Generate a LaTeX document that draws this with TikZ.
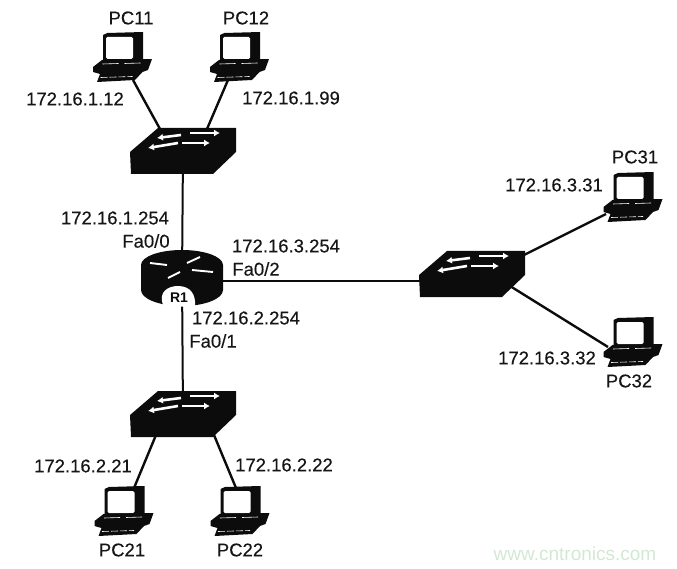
\documentclass[tikz,border=0pt]{standalone}
\usepackage{fontspec}
\setmainfont{Liberation Sans}
\usetikzlibrary{calc,arrows.meta}
\definecolor{ink}{HTML}{0C0C0C}
\definecolor{labelink}{HTML}{161616}
\definecolor{mark}{HTML}{D2E8D2}
\tikzset{
  x=1pt,y=-1pt,
  lbl/.style={inner sep=0pt,text=labelink,font=\fontsize{18.5}{20}\selectfont\addfontfeature{FakeBold=0.25}},
  link/.style={draw=ink,line width=2.4pt},
  device/.style={inner sep=0pt,minimum width=106pt,minimum height=46pt,draw=none},
  pcdev/.style={inner sep=0pt,minimum width=50pt,minimum height=50pt,draw=none},
  rtdev/.style={inner sep=0pt,minimum width=82pt,minimum height=57pt,draw=none},
  flow/.style={draw=white,line width=2.6pt,-{Latex[length=6pt,width=7pt]}},
  hair/.style={draw=white,line width=.6pt},
  pc/.pic={
    \fill[ink] (-19.5,-22) -- (-15,-24) -- (20.5,-25) -- (20.5,3) -- (-19.5,4) -- cycle;
    \fill[white,rounded corners=1.5pt] (-16.5,-20) rectangle (10.5,2);
    \fill[ink] (-29.5,10) -- (-20.5,3) -- (29.5,2) -- (25.5,13) -- (20,15) -- (12.5,23)
      -- (-25.5,25) -- (-22.5,17) -- (-29.5,15) -- cycle;
    \draw[hair] (-20,7) -- (-4,6.5) (2,6.5) -- (18,6);
    \draw[hair,dash pattern=on 7pt off 2pt] (-22,20.5) -- (10,19.5);
  },
  switchicon/.pic={
    \fill[ink] (-53,1) -- (-25,-23) -- (53,-23) -- (53,1) -- (30,23) -- (-52,23) -- cycle;
    \draw[flow] (-2,-16) -- (-26,-13);
    \draw[flow] (7,-18) -- (37,-18);
    \draw[flow] (-5,-8) -- (-35,-3);
    \draw[flow] (-1,-8) -- (27,-8);
  },
  routericon/.pic={
    \fill[ink] (-41,-13) arc[start angle=180,end angle=360,x radius=41,y radius=15]
       -- (41,12) arc[start angle=0,end angle=180,x radius=41,y radius=16] -- cycle;
    \fill[white] (-19,27) .. controls (-24,14) and (-14,8) .. (-4,8)
       .. controls (8,8) and (14,16) .. (13,28) .. controls (4,29) and (-10,29) .. (-19,27) -- cycle;
    \draw[draw=white,line width=1.9pt] (-32,-15) -- (-15,-13) (5,-15) -- (18,-21)
       (-14,0) -- (-2,-6) (10,-8) -- (31,-6);
    \node[inner sep=0pt,text=ink,font=\fontsize{14}{14}\selectfont\bfseries] at (-3,19.5) {R1};
  }
}
\begin{document}
\begin{tikzpicture}
\useasboundingbox (0,0) rectangle (677,569);
% device anchors
\node[pcdev] (pc11) at (122.5,57) {};
\node[pcdev] (pc12) at (239.5,57) {};
\node[pcdev] (pc21) at (124,511) {};
\node[pcdev] (pc22) at (240,511) {};
\node[pcdev] (pc31) at (633,197) {};
\node[pcdev] (pc32) at (633,342) {};
\node[device] (sw1) at (183,151) {};
\node[device] (sw2) at (183,414) {};
\node[device] (sw3) at (472,274) {};
\node[rtdev] (r1) at (182,278) {};
% ports
\coordinate (a11) at (133,80);
\coordinate (s11) at (160,129);
\coordinate (a12) at (228,80);
\coordinate (s12) at (207,129);
\coordinate (a21) at (134,488);
\coordinate (s21) at (156,435);
\coordinate (a22) at (236,488);
\coordinate (s22) at (214,435);
\coordinate (a31) at (606,214);
\coordinate (s31) at (524,255);
\coordinate (a32) at (608,347);
\coordinate (s32) at (510,286);
\coordinate (r3) at (215,281);
\coordinate (s3w) at (425,281);
% links
\draw[link] (a11) -- (s11);
\draw[link] (a12) -- (s12);
\draw[link] (a21) -- (s21);
\draw[link] (a22) -- (s22);
\draw[link] (a31) -- (s31);
\draw[link] (a32) -- (s32);
\draw[link,line width=2pt] (sw1.center) -- (r1.center);
\draw[link,line width=2pt] (r1.center) -- (sw2.center);
\draw[link,line width=2pt] (r3) -- (s3w);
% icons
\foreach \n in {pc11,pc12,pc21,pc22,pc31,pc32} \pic at (\n) {pc};
\foreach \n in {sw1,sw2,sw3} \pic at (\n) {switchicon};
\pic at (r1) {routericon};
% labels
\node[lbl] at (131,18) {PC11};
\node[lbl] at (246,18) {PC12};
\node[lbl] at (635,157) {PC31};
\node[lbl] at (629,381) {PC32};
\node[lbl] at (122,550) {PC21};
\node[lbl] at (240,550) {PC22};
\node[lbl] at (75,99) {172.16.1.12};
\node[lbl] at (291,98) {172.16.1.99};
\node[lbl] at (115,218) {172.16.1.254};
\node[lbl] at (146,241) {Fa0/0};
\node[lbl] at (286,246) {172.16.3.254};
\node[lbl] at (256,269) {Fa0/2};
\node[lbl] at (246,318) {172.16.2.254};
\node[lbl] at (213,341) {Fa0/1};
\node[lbl] at (554,185) {172.16.3.31};
\node[lbl] at (547,358) {172.16.3.32};
\node[lbl] at (83,466) {172.16.2.21};
\node[lbl] at (284,465) {172.16.2.22};
\node[inner sep=0pt,text=mark,font=\fontsize{19}{20}\selectfont] at (575,554) {www.cntronics.com};
\end{tikzpicture}
\end{document}
